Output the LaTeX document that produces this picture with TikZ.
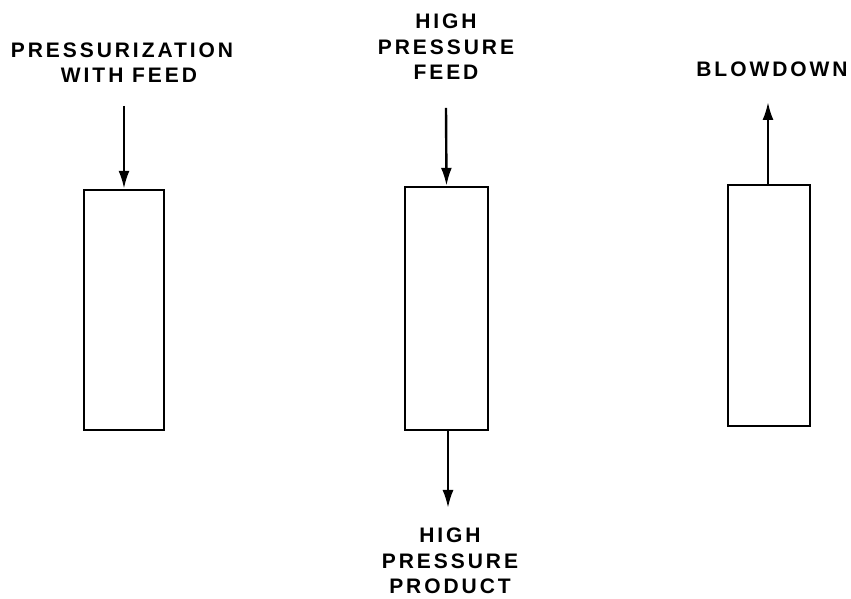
\documentclass[tikz,border=0pt]{standalone}
\usepackage{fontspec}
\usetikzlibrary{arrows.meta}
\newfontfamily\lblfont[LetterSpace=14]{Liberation Sans}

\tikzset{
  column/.style={draw, line width=2.4pt, inner sep=0pt},
  flow/.style={-{Latex[length=18pt,width=11pt]}, line width=2.4pt},
  lbl/.style={font=\lblfont\bfseries\fontsize{21}{25.5}\selectfont, align=center, inner sep=0pt}
}

\begin{document}
\begin{tikzpicture}[x=1pt,y=1pt]
    \useasboundingbox (0,0) rectangle (851,599);
    % the three beds
    \node[column, minimum width=80pt, minimum height=240pt] (bedA) at (124,289) {};
    \node[column, minimum width=83pt, minimum height=243pt] (bedB) at (446.5,290.5) {};
    \node[column, minimum width=82pt, minimum height=241pt] (bedC) at (769,293.5) {};
    % labels
    \node[lbl, anchor=south] (pressA) at (122,516) {PRESSURIZATION\\\hspace*{14pt}WITH FEED};
    \node[lbl, anchor=south] (feedB) at (446,519) {HIGH\\PRESSURE\\FEED};
    \node[lbl, anchor=south] (blowC) at (772,522) {BLOWDOWN};
    \node[lbl, anchor=north] (prodB) at (450,71) {HIGH\\PRESSURE\\PRODUCT};
    % arrow ends
    \coordinate (inA) at (124,493);
    \coordinate (inB) at (446,491);
    \coordinate (outC) at (768,497);
    \coordinate (outB) at (448,91);
    \draw[flow] (inA) -- (bedA.north);
    \draw[flow] (inB) -- (bedB.north);
    \draw[flow] (bedC.north -| outC) -- (outC);
    \draw[flow] (bedB.south -| outB) -- (outB);
\end{tikzpicture}
\end{document}
